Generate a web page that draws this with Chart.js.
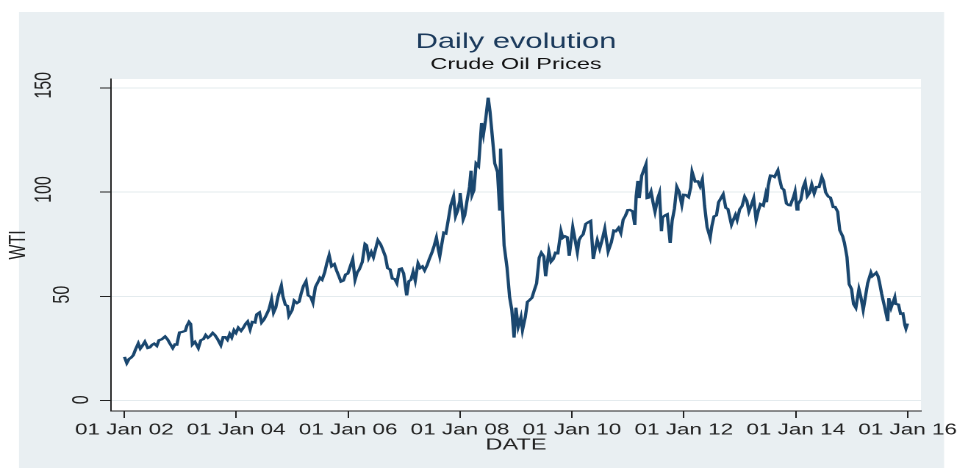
<!DOCTYPE html>
<html>
<head>
<meta charset="utf-8">
<title>Daily evolution - Crude Oil Prices</title>
<script src="https://cdn.jsdelivr.net/npm/chart.js@4/dist/chart.umd.min.js"></script>
<style>
  html, body { margin: 0; padding: 0; background: #fff; overflow: hidden; }
  /* the drawing is laid out narrow and widened horizontally */
  #wrap { position: absolute; left: 0; top: 0; width: 651px; height: 468px;
          transform: scaleX(1.47); transform-origin: 0 0; }
</style>
</head>
<body>
<div id="wrap"><canvas id="c" width="651" height="468"></canvas></div>
<script>
// WTI crude oil spot price, USD per barrel
const dates = [
  '2002-01-02','2002-01-17','2002-02-01','2002-02-15','2002-03-01','2002-03-15','2002-04-02','2002-04-15',
  '2002-05-01','2002-05-15','2002-06-03','2002-06-17','2002-07-01','2002-07-15','2002-08-01','2002-08-15',
  '2002-09-03','2002-09-24','2002-10-10','2002-10-25','2002-11-13','2002-11-27','2002-12-10','2002-12-27',
  '2003-01-15','2003-02-03','2003-02-14','2003-02-27','2003-03-10','2003-03-21','2003-04-07','2003-04-29',
  '2003-05-15','2003-06-02','2003-06-16','2003-07-01','2003-07-15','2003-08-01','2003-08-15','2003-09-02',
  '2003-09-23','2003-10-08','2003-10-22','2003-11-05','2003-11-20','2003-12-03','2003-12-18','2003-12-31',
  '2004-01-15','2004-02-02','2004-02-17','2004-03-02','2004-03-16','2004-04-01','2004-04-15','2004-05-03',
  '2004-05-14','2004-06-01','2004-06-15','2004-07-01','2004-07-15','2004-08-02','2004-08-19','2004-09-01',
  '2004-09-15','2004-10-01','2004-10-22','2004-11-01','2004-11-17','2004-12-01','2004-12-10','2004-12-31',
  '2005-01-14','2005-02-01','2005-02-15','2005-03-01','2005-03-15','2005-04-01','2005-04-15','2005-05-02',
  '2005-05-16','2005-06-01','2005-06-15','2005-07-01','2005-07-15','2005-08-01','2005-08-15','2005-08-30',
  '2005-09-15','2005-10-03','2005-10-17','2005-11-01','2005-11-15','2005-12-01','2005-12-15','2005-12-30',
  '2006-01-13','2006-01-31','2006-02-15','2006-03-01','2006-03-15','2006-04-03','2006-04-21','2006-05-01',
  '2006-05-15','2006-06-01','2006-06-15','2006-07-03','2006-07-14','2006-08-01','2006-08-15','2006-09-01',
  '2006-09-15','2006-10-02','2006-10-16','2006-11-01','2006-11-15','2006-12-01','2006-12-15','2006-12-29',
  '2007-01-18','2007-02-01','2007-02-15','2007-03-01','2007-03-15','2007-04-02','2007-04-16','2007-05-01',
  '2007-05-15','2007-06-01','2007-06-15','2007-07-02','2007-07-16','2007-07-31','2007-08-15','2007-08-22',
  '2007-09-04','2007-09-17','2007-10-01','2007-10-15','2007-11-01','2007-11-20','2007-12-03','2007-12-17',
  '2007-12-31',
  '2008-01-02','2008-01-22','2008-02-01','2008-02-15','2008-03-03','2008-03-13','2008-03-20','2008-04-01',
  '2008-04-15','2008-05-01','2008-05-21','2008-06-02','2008-06-16','2008-07-03','2008-07-15','2008-08-01',
  '2008-08-15','2008-09-02','2008-09-16','2008-09-22','2008-10-01','2008-10-15','2008-11-03','2008-11-20',
  '2008-12-04','2008-12-19','2008-12-31',
  '2009-01-15','2009-02-02','2009-02-12','2009-03-02','2009-03-16','2009-04-01','2009-04-15','2009-05-01',
  '2009-05-15','2009-06-01','2009-06-15','2009-07-01','2009-07-13','2009-08-03','2009-08-17','2009-09-01',
  '2009-09-15','2009-10-01','2009-10-21','2009-11-02','2009-11-16','2009-12-01','2009-12-14','2009-12-31',
  '2010-01-06','2010-01-20','2010-02-05','2010-02-16','2010-03-01','2010-03-15','2010-04-01','2010-04-15',
  '2010-05-03','2010-05-20','2010-06-01','2010-06-15','2010-07-01','2010-07-15','2010-08-03','2010-08-25',
  '2010-09-15','2010-10-01','2010-10-15','2010-11-01','2010-11-16','2010-12-01','2010-12-15','2010-12-31',
  '2011-01-14','2011-02-01','2011-02-15','2011-02-24','2011-03-07','2011-03-16','2011-04-01','2011-04-29',
  '2011-05-06','2011-05-16','2011-06-01','2011-06-15','2011-06-27','2011-07-15','2011-07-26','2011-08-08',
  '2011-08-15','2011-09-01','2011-09-15','2011-10-04','2011-10-17','2011-11-01','2011-11-16','2011-12-01',
  '2011-12-19','2011-12-30',
  '2012-01-13','2012-02-01','2012-02-15','2012-02-24','2012-03-15','2012-04-02','2012-04-16','2012-05-01',
  '2012-05-15','2012-06-01','2012-06-21','2012-07-02','2012-07-16','2012-08-01','2012-08-15','2012-09-14',
  '2012-10-01','2012-10-15','2012-11-07','2012-11-15','2012-12-03','2012-12-14','2012-12-31',
  '2013-01-15','2013-02-01','2013-02-15','2013-03-01','2013-03-15','2013-04-01','2013-04-17','2013-05-01',
  '2013-05-15','2013-06-03','2013-06-17','2013-06-24','2013-07-05','2013-07-19','2013-08-01','2013-08-15',
  '2013-09-06','2013-09-16','2013-10-01','2013-10-15','2013-11-01','2013-11-15','2013-11-26','2013-12-16',
  '2013-12-27',
  '2014-01-09','2014-01-15','2014-02-03','2014-02-18','2014-03-03','2014-03-17','2014-04-01','2014-04-15',
  '2014-05-01','2014-05-15','2014-06-02','2014-06-20','2014-07-01','2014-07-15','2014-08-01','2014-08-15',
  '2014-09-02','2014-09-15','2014-10-01','2014-10-15','2014-11-03','2014-11-14','2014-12-01','2014-12-15',
  '2014-12-31',
  '2015-01-13','2015-01-28','2015-02-17','2015-03-02','2015-03-17','2015-04-01','2015-04-15','2015-05-06',
  '2015-05-15','2015-06-10','2015-06-22','2015-07-01','2015-07-15','2015-08-03','2015-08-24','2015-08-31',
  '2015-09-15','2015-10-09','2015-10-15','2015-11-02','2015-11-16','2015-12-01','2015-12-14','2015-12-21',
  '2015-12-31'
];
const wti = [
  21.0,18.0,20.0,20.7,21.9,24.6,27.5,25.0,
  26.6,28.3,25.3,25.6,26.8,27.4,26.3,29.0,
  29.5,30.8,29.4,27.5,25.2,27.0,26.9,32.7,
  33.0,33.5,36.0,37.8,36.8,26.9,28.2,25.2,
  29.0,29.6,31.5,30.2,31.0,32.5,31.5,29.5,
  26.6,30.5,30.5,29.2,32.0,30.3,33.8,32.5,
  35.0,33.5,35.0,36.8,38.0,34.2,37.8,37.5,
  41.4,42.3,37.5,39.0,41.0,43.8,48.7,42.2,
  44.5,50.1,55.2,50.1,46.0,45.5,40.7,43.4,
  48.0,46.8,47.5,51.6,55.0,57.3,50.5,49.7,
  47.0,54.5,56.5,59.0,58.0,61.6,66.0,69.8,
  64.5,65.5,62.5,59.8,57.1,57.6,60.5,61.0,
  64.0,67.9,58.0,61.5,63.0,66.5,75.2,74.6,
  68.5,71.3,68.8,73.9,77.0,75.0,72.5,69.2,
  63.6,62.9,58.6,58.3,56.3,63.1,63.4,61.1,
  50.5,57.3,58.0,61.8,57.6,65.9,63.6,64.4,
  62.5,65.1,68.0,71.1,74.2,78.2,71.7,69.3,
  75.0,80.6,80.2,86.1,93.5,98.0,88.5,91.3,
  95.9,
  99.6,87.0,88.9,95.5,102.5,110.3,98.7,100.9,
  113.8,112.5,133.2,127.8,134.6,145.3,138.7,125.1,
  113.8,109.7,91.2,120.9,98.5,74.5,63.9,49.6,
  43.7,30.3,44.6,
  35.4,40.1,33.9,40.0,47.4,48.4,49.4,53.2,
  56.3,68.6,71.0,69.3,59.7,71.6,66.7,68.0,
  71.0,70.8,81.4,78.1,78.9,78.4,69.5,79.4,
  83.2,77.6,71.2,77.0,78.7,79.8,84.8,85.5,
  86.2,68.0,72.6,77.0,72.9,76.6,82.5,71.6,
  76.0,81.6,81.3,82.9,80.4,86.8,88.6,91.4,
  91.5,90.8,84.3,98.1,105.4,97.2,107.9,113.4,
  97.2,97.4,100.3,94.8,90.6,97.2,99.6,81.3,
  87.9,88.9,89.4,75.7,86.4,92.2,102.6,100.2,
  93.9,98.8,
  98.7,97.6,102.3,109.8,105.1,105.2,102.8,106.2,
  93.8,83.2,78.2,83.8,88.4,88.9,95.2,99.0,
  92.5,91.9,84.4,86.0,89.1,86.7,91.8,
  93.3,97.8,95.9,90.7,93.5,97.1,86.7,91.0,
  94.3,93.5,98.4,95.2,103.2,108.0,107.9,107.3,
  110.5,106.6,102.0,101.2,94.6,93.8,93.7,97.5,
  100.3,
  91.7,94.2,96.4,102.4,104.9,98.1,99.7,103.7,
  99.4,102.5,102.5,107.3,105.3,99.9,97.9,97.4,
  92.9,92.9,90.7,81.8,78.8,75.8,68.9,55.9,
  53.5,
  46.3,44.5,53.5,49.6,43.5,50.1,56.4,61.4,
  59.7,61.4,59.7,56.9,51.4,45.2,38.2,49.2,
  44.6,49.6,46.4,46.1,41.7,41.9,36.3,34.6,
  37.0
];

// axis ticks
const tickDates  = ['2002-01-01','2004-01-01','2006-01-01','2008-01-01','2010-01-01','2012-01-01','2014-01-01','2016-01-01'];
const tickLabels = ['01 Jan 02','01 Jan 04','01 Jan 06','01 Jan 08','01 Jan 10','01 Jan 12','01 Jan 14','01 Jan 16'];
const yTicks     = [0, 50, 100, 150];

const FONT = '"Liberation Sans", Arial, Helvetica, sans-serif';

function dayNum(s) {
  const [y, m, d] = s.split('-').map(Number);
  return Date.UTC(y, m - 1, d) / 864e5;
}

const points = dates.map((d, i) => ({ x: dayNum(d), y: wti[i] }));
const xMin = dayNum(tickDates[0]) - 87;
const xMax = dayNum(tickDates[tickDates.length - 1]) + 87;

// light graph-region background and white plot region
const backdrop = {
  id: 'backdrop',
  beforeDraw(chart) {
    const { ctx, chartArea: a } = chart;
    ctx.save();
    ctx.fillStyle = '#e9eff2';
    ctx.fillRect(12.93, 12, 629.3, 456);
    ctx.fillStyle = '#ffffff';
    ctx.fillRect(a.left, a.top, a.right - a.left, a.bottom - a.top);
    ctx.restore();
  }
};

// vertical y tick labels, set back from the tick marks by their own length
const yLabels = {
  id: 'yLabels',
  afterDraw(chart) {
    const s = chart.scales.y, ctx = chart.ctx;
    ctx.save();
    ctx.font = '16px ' + FONT;
    ctx.fillStyle = '#222';
    ctx.textAlign = 'center';
    ctx.textBaseline = 'middle';
    const edge = s.right - s.options.grid.tickLength;
    s.ticks.forEach(t => {
      const label = String(t.value);
      const w = ctx.measureText(label).width;
      ctx.save();
      ctx.translate(edge - 1.42 * w, s.getPixelForValue(t.value) - 0.1 * w);
      ctx.rotate(-Math.PI / 2);
      ctx.fillText(label, 0, 0);
      ctx.restore();
    });
    ctx.restore();
  }
};

new Chart(document.getElementById('c'), {
  type: 'line',
  data: {
    datasets: [{
      label: 'WTI',
      data: points,
      borderColor: '#1a476f',
      borderWidth: 2.2,
      pointRadius: 0,
      tension: 0,
      fill: false
    }]
  },
  options: {
    responsive: false,
    animation: false,
    devicePixelRatio: 2,
    layout: { padding: { left: 0, right: 24.5, top: 0, bottom: 0 } },
    plugins: {
      legend: { display: false },
      tooltip: { enabled: false },
      title: {
        display: true, text: 'Daily evolution', fullSize: false,
        color: '#1b3a5c', font: { family: FONT, size: 21, weight: 'normal' },
        padding: { top: 29.6, bottom: 0 }
      },
      subtitle: {
        display: true, text: 'Crude Oil Prices', fullSize: false,
        color: '#111', font: { family: FONT, size: 16, weight: 'normal' },
        padding: { top: 0, bottom: 5 }
      }
    },
    scales: {
      x: {
        type: 'linear', min: xMin, max: xMax,
        afterBuildTicks: s => { s.ticks = tickDates.map(d => ({ value: dayNum(d) })); },
        afterFit: s => { s.height = 57; s.paddingLeft = 0; s.paddingRight = 0; },
        ticks: {
          autoSkip: false, maxRotation: 0, minRotation: 0, padding: 3,
          color: '#222', font: { family: FONT, size: 15.3 },
          callback: (v, i) => tickLabels[i]
        },
        grid: { drawOnChartArea: false, tickLength: 7, tickColor: '#222', color: '#222' },
        border: { color: '#222', width: 1 },
        title: {
          display: true, text: 'DATE', color: '#222',
          font: { family: FONT, size: 16 }, padding: { top: 0, bottom: 13.2 }
        }
      },
      y: {
        min: -4.94, max: 154.3,
        afterBuildTicks: s => { s.ticks = yTicks.map(v => ({ value: v })); },
        afterFit: s => { s.width = 75.5; s.paddingTop = 0; s.paddingBottom = 0; },
        ticks: { display: false },
        grid: { color: '#e4ebee', tickColor: '#222', tickLength: 7.5, lineWidth: 1 },
        border: { color: '#222', width: 1 },
        title: {
          display: true, text: 'WTI', color: '#222',
          font: { family: FONT, size: 16 }, padding: { top: 3, bottom: 0 }
        }
      }
    }
  },
  plugins: [backdrop, yLabels]
});
</script>
</body>
</html>
